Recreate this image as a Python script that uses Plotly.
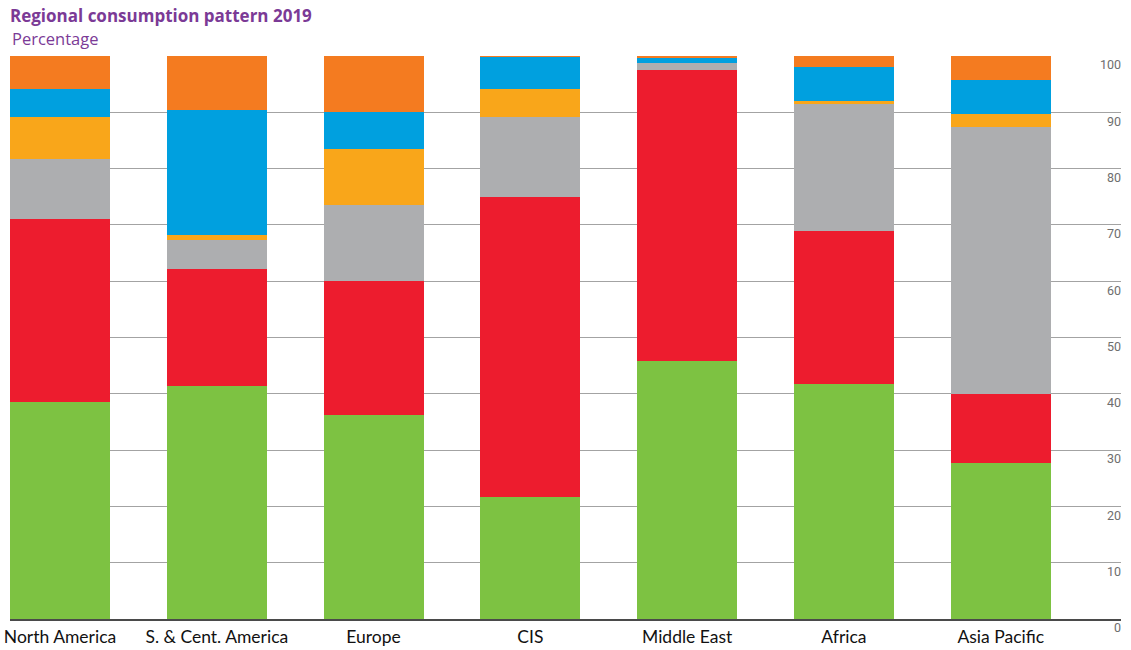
import plotly.graph_objects as go

# Share of primary energy consumption by fuel, 2019 (percent)
regions = ["North America", "S. & Cent. America", "Europe", "CIS",
           "Middle East", "Africa", "Asia Pacific"]
oil = [38.5, 41.4, 36.3, 21.7, 45.8, 41.7, 27.7]
natural_gas = [32.6, 20.8, 23.8, 53.2, 51.8, 27.2, 12.3]
coal = [10.6, 5.1, 13.5, 14.3, 1.2, 22.5, 47.4]
nuclear = [7.4, 0.9, 9.8, 5.0, 0.0, 0.6, 2.3]
hydro = [5.1, 22.2, 6.7, 5.7, 0.8, 6.0, 6.1]
renewables = [5.8, 9.6, 9.9, 0.1, 0.4, 2.0, 4.2]
y_ticks = [0, 10, 20, 30, 40, 50, 60, 70, 80, 90, 100]

series = [
    ("Oil", oil, "#7DC242"),
    ("Natural gas", natural_gas, "#ED1C2E"),
    ("Coal", coal, "#ADAEB0"),
    ("Nuclear energy", nuclear, "#F9A61A"),
    ("Hydroelectricity", hydro, "#00A0DF"),
    ("Renewables", renewables, "#F47B20"),
]

x_pos = list(range(len(regions)))
bar_w = 0.638

fig = go.Figure()
for name, vals, color in series:
    fig.add_trace(go.Bar(
        x=x_pos, y=vals, name=name, width=bar_w,
        marker=dict(color=color, line=dict(width=0)),
        hoverinfo="skip",
    ))

fig.update_layout(
    barmode="stack",
    width=1131, height=650,
    margin=dict(l=10, r=10, t=56, b=30.5, pad=0),
    paper_bgcolor="white", plot_bgcolor="white",
    showlegend=False,
    xaxis=dict(
        range=[-bar_w / 2, -bar_w / 2 + 7.086],
        tickmode="array", tickvals=x_pos, ticktext=regions,
        tickfont=dict(family="Lato", size=17.5, color="#111111"),
        showgrid=False, zeroline=False,
        showline=True, linecolor="#4a4a4a", linewidth=1.5,
        ticks="", ticklabelstandoff=1,
        automargin=False, fixedrange=True,
    ),
    yaxis=dict(
        range=[0, 100], side="left", anchor="free", position=1,
        tickmode="array", tickvals=y_ticks,
        ticktext=[str(v) for v in y_ticks],
        tickfont=dict(family="Roboto", size=12.5, color="#6e6e6e"),
        showgrid=True, gridcolor="#a3a3a3", gridwidth=1,
        zeroline=False, showline=False,
        ticks="", ticklabelposition="outside",
        ticklabelshift=9, ticklabelstandoff=0,
        automargin=False, fixedrange=True,
    ),
    annotations=[
        dict(text="<b>Regional consumption pattern 2019</b>",
             xref="paper", yref="paper", x=0, y=1,
             xanchor="left", yanchor="middle", yshift=41, xshift=-2,
             showarrow=False,
             font=dict(family="Open Sans", size=17, color="#7B3A96")),
        dict(text="Percentage",
             xref="paper", yref="paper", x=0, y=1,
             xanchor="left", yanchor="middle", yshift=18, xshift=0,
             showarrow=False,
             font=dict(family="Open Sans", size=16.5, color="#7B3A96")),
    ],
)

fig.write_html("out.html")
